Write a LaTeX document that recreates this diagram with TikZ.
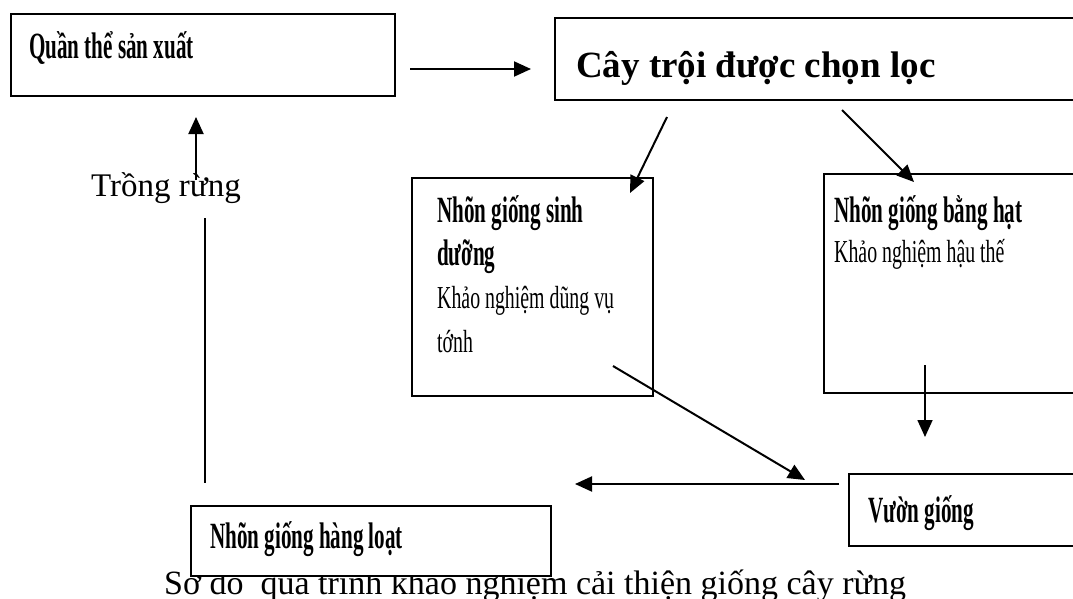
\documentclass[tikz,border=0pt]{standalone}
\usepackage{fontspec}
\setmainfont{Liberation Serif}
\newfontfamily\condbold[FakeStretch=0.57]{Liberation Serif}
\newfontfamily\condreg[FakeStretch=0.62]{Liberation Serif}
\usetikzlibrary{arrows.meta}

\tikzset{
  box/.style={draw, line width=1.9pt, anchor=north west, inner sep=0pt},
  hd/.style={anchor=base west, inner sep=0pt, font=\condbold\bfseries\fontsize{37}{40}\selectfont},
  sub/.style={anchor=base west, inner sep=0pt, font=\condreg\fontsize{32}{36}\selectfont},
  arr/.style={line width=2pt, -{Triangle[length=17pt,width=15pt]}},
}

\begin{document}
\begin{tikzpicture}[x=1pt,y=-1pt]
\useasboundingbox (0,0) rectangle (1073,598);
\clip (0,0) rectangle (1073,598);

\node[box, minimum width=384pt, minimum height=82pt] (qbox) at (10,13) {};
\node[box, minimum width=526pt, minimum height=82pt] (cbox) at (554,17) {};
\node[box, minimum width=241pt, minimum height=218pt] (sbox) at (411,177) {};
\node[box, minimum width=257pt, minimum height=219pt] (hbox) at (823,173) {};
\node[box, minimum width=232pt, minimum height=72pt] (vbox) at (848,473) {};

\node[hd] (qtxt) at (29,58) {Quần thể sản xuất};
\node[anchor=base west, inner sep=0pt, font=\bfseries\fontsize{37}{40}\selectfont] (ctxt) at (576,77) {Cây trội được chọn lọc};

\node[hd] (s1) at (437,222) {Nhõn giống sinh};
\node[hd] (s2) at (437,265) {dưỡng};
\node[sub] (s3) at (437,308) {Khảo nghiệm dũng vụ};
\node[sub] (s4) at (437,352) {tớnh};

\node[hd] (h1) at (834,222) {Nhõn giống bằng hạt};
\node[sub] (h2) at (834,262) {Khảo nghiệm hậu thế};

\node[hd] (vtxt) at (868,522) {Vườn giống};

\node[anchor=base west, inner sep=0pt, font=\fontsize{33}{38}\selectfont] (trong) at (91,196) {Trồng rừng};

% caption sits under the last box
\node[anchor=base west, inner sep=0pt, font=\fontsize{34}{40}\selectfont] (cap) at (164,594) {Sơ đồ\ \ quá trình khảo nghiệm cải thiện giống cây rừng};
\node[box, fill=white, minimum width=360pt, minimum height=70pt] (lbox) at (190,505) {};
\node[hd] (ltxt) at (210,548) {Nhõn giống hàng loạt};

\coordinate (a1s) at (410,69);
\coordinate (a1e) at (531,69);
\coordinate (a2s) at (667,117);
\coordinate (a2e) at (630,193);
\coordinate (a3s) at (842,110);
\coordinate (a3e) at (914,182);
\coordinate (a4s) at (925,365);
\coordinate (a4e) at (925,437);
\coordinate (a5s) at (613,366);
\coordinate (a5e) at (805,480);
\coordinate (a6s) at (839,484);
\coordinate (a6e) at (575,484);
\coordinate (a7s) at (196,180);
\coordinate (a7e) at (196,117);
\coordinate (l1s) at (205,218);
\coordinate (l1e) at (205,483);

\draw[arr] (a1s) -- (a1e);
\draw[arr] (a2s) -- (a2e);
\draw[arr] (a3s) -- (a3e);
\draw[arr, line width=1.6pt] (a4s) -- (a4e);
\draw[arr] (a5s) -- (a5e);
\draw[arr] (a6s) -- (a6e);
\draw[arr] (a7s) -- (a7e);
\draw[line width=1.3pt] (l1s) -- (l1e);

\end{tikzpicture}
\end{document}
